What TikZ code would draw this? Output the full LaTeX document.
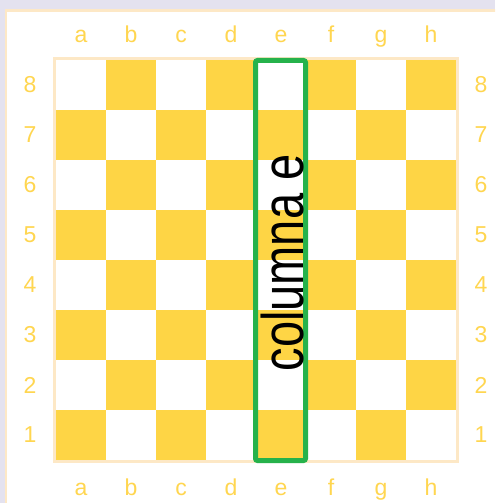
\documentclass[tikz,border=0pt]{standalone}
\usepackage{fontspec}
\setmainfont{Liberation Sans}
\definecolor{lavender}{HTML}{E4E2EF}
\definecolor{peach}{HTML}{FDE8C6}
\definecolor{boardyellow}{HTML}{FED545}
\definecolor{labelyellow}{HTML}{FFD650}
\definecolor{markgreen}{HTML}{26B24B}
\begin{document}
\begin{tikzpicture}[
    x=1pt, y=-1pt,
    square/.style={
        fill=boardyellow
    },
    coord/.style={
        font=\fontsize{23}{23}\selectfont,
        text=labelyellow,
        inner sep=0pt
    },
    frame/.style={
        draw=peach,
        line width=3pt
    },
    highlight/.style={
        draw=markgreen,
        line width=5pt,
        rounded corners=2pt,
        inner sep=0pt
    }
]
    \useasboundingbox (0,0) rectangle (495,503);
    \clip (0,0) rectangle (495,503);
    \fill[lavender] (0,0) rectangle (495,503);
    \draw[draw=peach, line width=2.5pt, fill=white] (6.2,10.6) rectangle (520,530);

    % board
    \draw[frame] (54.5,58.5) rectangle (457.5,461.5);
    \foreach \i in {0,...,7} {
        \foreach \r in {1,...,8} {
            \pgfmathtruncatemacro\odd{mod(\i+\r,2)}
            \ifnum\odd=1
                \fill[square] ({56+50*\i},{60+50*(8-\r)}) rectangle ++(50,50);
            \fi
        }
    }

    % files and ranks
    \foreach \f [count=\i from 0] in {a,...,h} {
        \node[coord, anchor=base] (top-\f) at ({81+50*\i},43) {\f};
        \node[coord, anchor=base] (bot-\f) at ({81+50*\i},495) {\f};
    }
    \foreach \r in {1,...,8} {
        \node[coord] (left-\r) at (30,{85+50*(8-\r)}) {\r};
        \node[coord] (right-\r) at (481,{85+50*(8-\r)}) {\r};
    }

    % column e
    \node[highlight, minimum width=50pt, minimum height=400pt] (colE-box) at (280.5,260.5) {};
    \node[rotate=90, anchor=base, inner sep=0pt, font=\fontsize{47}{47}\selectfont] (colE-label) at (303,263) {\scalebox{1}[1.25]{columna e}};

\end{tikzpicture}
\end{document}
